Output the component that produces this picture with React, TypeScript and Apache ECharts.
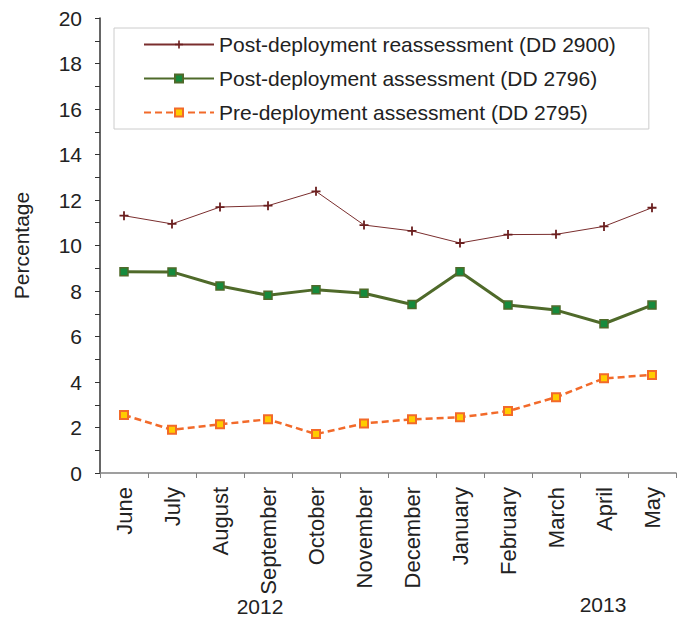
import React, { useEffect, useRef } from "react";
import * as echarts from "echarts";

const months = ["June", "July", "August", "September", "October", "November", "December", "January", "February", "March", "April", "May"];
const reassessment = [11.31, 10.95, 11.69, 11.75, 12.38, 10.9, 10.64, 10.11, 10.48, 10.49, 10.84, 11.66];
const assessment = [8.85, 8.84, 8.22, 7.81, 8.06, 7.9, 7.41, 8.85, 7.38, 7.16, 6.56, 7.38];
const preDeployment = [2.55, 1.9, 2.14, 2.36, 1.71, 2.18, 2.36, 2.45, 2.72, 3.33, 4.16, 4.31];
const seriesNames = [
  "Post-deployment reassessment (DD 2900)",
  "Post-deployment assessment (DD 2796)",
  "Pre-deployment assessment (DD 2795)",
];
const yearLabels = ["2012", "2013"];

const FONT = "Liberation Sans, Arial, sans-serif";
const PLUS = "path://M4,0h2v4h4v2h-4v4h-2v-4h-4v-2h4z";

export default function App() {
  const ref = useRef<HTMLDivElement>(null);
  useEffect(() => {
    document.body.style.margin = "0";
    const chart = echarts.init(ref.current!, null, { renderer: "svg" });
    chart.setOption({
      animation: false,
      backgroundColor: "#ffffff",
      textStyle: { fontFamily: FONT },
      grid: { left: 100, top: 18, right: 7, bottom: 145 },
      legend: {
        left: 114,
        top: 28,
        orient: "vertical",
        itemWidth: 70,
        itemHeight: 10,
        itemGap: 13,
        padding: [6, 33, 6, 29],
        borderColor: "#cccccc",
        borderWidth: 1,
        textStyle: { fontSize: 21, color: "#222222", fontFamily: FONT },
        data: seriesNames,
      },
      xAxis: {
        type: "category",
        data: months,
        boundaryGap: true,
        axisLine: { lineStyle: { color: "#808080", width: 1.5 } },
        axisTick: { show: true, length: 5, lineStyle: { color: "#808080" } },
        axisLabel: { rotate: 90, fontSize: 22, color: "#222222", fontFamily: FONT, margin: 14, interval: 0 },
        splitLine: { show: false },
      },
      yAxis: {
        type: "value",
        min: 0,
        max: 20,
        interval: 2,
        name: "Percentage",
        nameLocation: "middle",
        nameGap: 68,
        nameTextStyle: { fontSize: 21, color: "#222222", fontFamily: FONT },
        axisLine: { show: true, lineStyle: { color: "#333333", width: 1.5 } },
        axisTick: { show: true, length: 5, lineStyle: { color: "#333333" } },
        minorTick: { show: true, splitNumber: 2, length: 5, lineStyle: { color: "#333333" } },
        axisLabel: { fontSize: 21, color: "#222222", fontFamily: FONT, margin: 18 },
        splitLine: { show: false },
      },
      graphic: [
        { type: "text", x: 260, y: 606, style: { text: yearLabels[0], fontSize: 21, fill: "#222222", fontFamily: FONT, textAlign: "center", textVerticalAlign: "middle" } },
        { type: "text", x: 603, y: 604, style: { text: yearLabels[1], fontSize: 21, fill: "#222222", fontFamily: FONT, textAlign: "center", textVerticalAlign: "middle" } },
      ],
      series: [
        {
          name: seriesNames[0],
          type: "line",
          data: reassessment,
          symbol: PLUS,
          symbolSize: 9,
          itemStyle: { color: "#6b1f1f" },
          lineStyle: { color: "#7a2e2e", width: 1 },
        },
        {
          name: seriesNames[1],
          type: "line",
          data: assessment,
          symbol: "rect",
          symbolSize: 8,
          itemStyle: { color: "#168a3c", borderColor: "#4f6a2a", borderWidth: 1.5 },
          lineStyle: { color: "#4f6a2a", width: 3 },
        },
        {
          name: seriesNames[2],
          type: "line",
          data: preDeployment,
          symbol: "rect",
          symbolSize: 8,
          itemStyle: { color: "#ffcc00", borderColor: "#f26a2a", borderWidth: 2 },
          lineStyle: { color: "#f26a2a", width: 2.5, type: [7, 4] },
        },
      ],
    });
    return () => chart.dispose();
  }, []);
  return <div ref={ref} style={{ width: 683, height: 618 }} />;
}
